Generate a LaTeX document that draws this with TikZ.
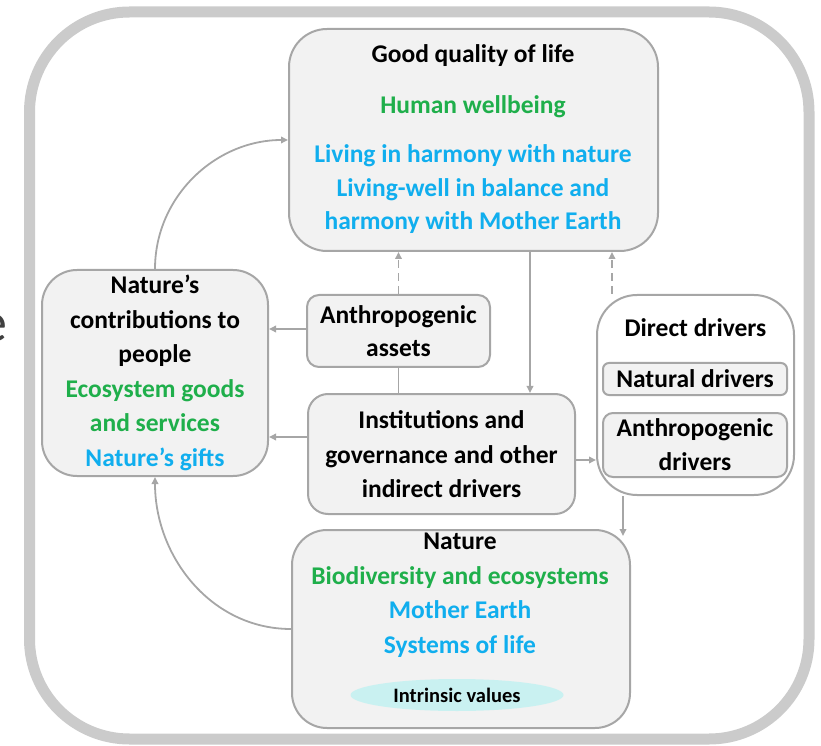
\documentclass[tikz,border=0pt]{standalone}
\usepackage{fontspec}
\setmainfont{Carlito}
\usetikzlibrary{arrows.meta,shapes.geometric}

\definecolor{framegray}{HTML}{CBCBCB}
\definecolor{linegray}{HTML}{A6A6A6}
\definecolor{boxfill}{HTML}{F2F2F2}
\definecolor{valgreen}{HTML}{1FAF4B}
\definecolor{valblue}{HTML}{10AEEE}
\definecolor{valcyan}{HTML}{C9F1F1}

\tikzset{
  box/.style={draw=linegray,line width=2pt,fill=boxfill,rounded corners=#1,inner sep=0pt},
  box/.default=12pt,
  txt/.style={font=\bfseries\fontsize{25.5}{34.5}\selectfont,align=center,inner sep=0pt},
  link/.style={draw=linegray,line width=1.8pt,-{Triangle[length=7pt,width=6.5pt]}},
  hint/.style={link,dash pattern=on 8pt off 5pt}
}

\begin{document}
\begin{tikzpicture}[x=1pt,y=1pt]
        \useasboundingbox (0,0) rectangle (821,745);
        \draw[framegray,line width=11pt,rounded corners=100pt] (29.5,733) rectangle (809,6);
        \node[font=\fontsize{56}{56}\selectfont,text=black!75,inner sep=0pt,anchor=base east] (cut) at (8,403) {e};

        % boxes
        \node[box=38pt,minimum width=369pt,minimum height=222pt] (qol) at (473.5,605) {};
        \node[box=35pt,minimum width=226pt,minimum height=206pt] (ncp) at (155,372) {};
        \node[box=12pt,minimum width=183pt,minimum height=72pt] (assets) at (398.5,414) {};
        \node[box=20pt,minimum width=267pt,minimum height=120pt] (inst) at (441.5,291) {};
        \node[box=40pt,fill=white,minimum width=197pt,minimum height=200pt] (direct) at (695.5,350) {};
        \node[box=6pt,minimum width=184pt,minimum height=32pt] (natural) at (695,366) {};
        \node[box=10pt,minimum width=184pt,minimum height=64pt] (anthdrv) at (695,300) {};
        \node[box=35pt,minimum width=338pt,minimum height=198pt] (nature) at (461,116) {};
        \node[ellipse,fill=valcyan,minimum width=213pt,minimum height=32pt,inner sep=0pt,
              font=\bfseries\fontsize{20.5}{20.5}\selectfont] (intrinsic) at (457,50) {Intrinsic values};

        % texts
        \node[txt] (qoltitle) at (473,689) {Good quality of life};
        \node[txt,text=valgreen] (wellbeing) at (473,638) {Human wellbeing};
        \node[txt,text=valblue,font=\bfseries\fontsize{25.5}{33.5}\selectfont] (harmony) at (473,555.5)
          {Living in harmony with nature\\Living-well in balance and\\harmony with Mother Earth};
        \node[txt] (ncptext) at (155,372)
          {Nature's\\contributions to\\people\\{\color{valgreen}Ecosystem goods}\\{\color{valgreen}and services}\\{\color{valblue}Nature's gifts}};
        \node[txt,font=\bfseries\fontsize{25.5}{33}\selectfont] (assetstext) at (398.5,413.5) {Anthropogenic\\assets};
        \node[txt] (insttext) at (441.5,290.5) {Institutions and\\governance and other\\indirect drivers};
        \node[txt] (directtext) at (695.5,417) {Direct drivers};
        \node[txt] (naturaltext) at (695,366) {Natural drivers};
        \node[txt,font=\bfseries\fontsize{25.5}{34}\selectfont] (anthdrvtext) at (695,300) {Anthropogenic\\drivers};
        \node[txt] (naturetext) at (460,150)
          {Nature\\{\color{valgreen}Biodiversity and ecosystems}\\{\color{valblue}Mother Earth}\\{\color{valblue}Systems of life}};

        % connectors
        \draw[link] (ncp.north) to[out=90,in=180] (qol.west);
        \draw[link] (nature.west) to[out=180,in=-90] (ncp.south);
        \draw[link] (assets.west) ++(0,2) coordinate (a1) -- (a1 -| ncp.east);
        \draw[link] (inst.west) ++(0,17) coordinate (i1) -- (i1 -| ncp.east);
        \draw[hint] (assets.north) -- (assets.north |- qol.south);
        \draw[linegray,line width=1.8pt] (assets.south) -- (assets.south |- inst.north);
        \draw[link] (qol.south) ++(56.5,0) coordinate (q1) -- (q1 |- inst.north);
        \draw[hint] (direct.north) ++(-83.5,0) coordinate (d1) -- (d1 |- qol.south);
        \draw[link] (inst.east) ++(0,-6) coordinate (i2) -- (i2 -| direct.west);
        \draw[link] (direct.south) ++(-72.5,0) coordinate (d2) -- ++(0,-40) coordinate (d3);
      \end{tikzpicture}
\end{document}
